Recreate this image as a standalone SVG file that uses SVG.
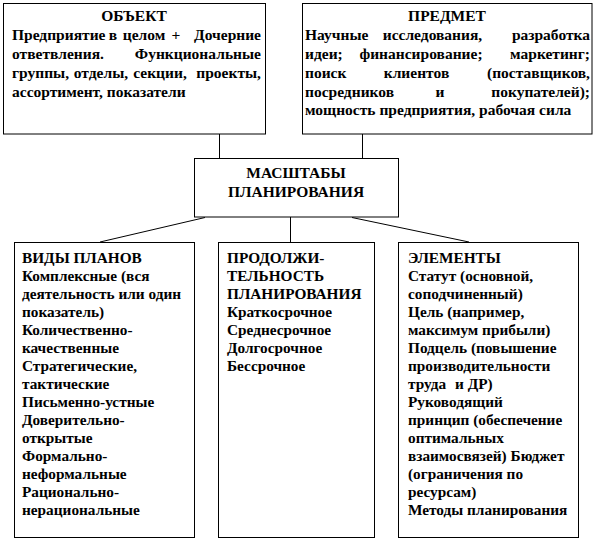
<svg xmlns="http://www.w3.org/2000/svg" width="594" height="545" viewBox="0 0 594 545">
<style>
.box{fill:#fff;stroke:#000;stroke-width:1}
.ln{stroke:#000;stroke-width:1;fill:none}
text{font-family:"Liberation Serif","Times New Roman",serif;font-weight:bold;fill:#000}
.t{font-size:15.5px}
.b{font-size:15.3px}
.m{text-anchor:middle}
.e{text-anchor:end}
</style>
<rect width="594" height="545" fill="#fff"/>
<g id="connectors">
<line class="ln" x1="219.5" y1="134" x2="219.5" y2="158"/>
<line class="ln" x1="362.5" y1="134" x2="362.5" y2="158"/>
<line class="ln" x1="290.5" y1="217" x2="290.5" y2="242"/>
<line class="ln" x1="205" y1="217.5" x2="100" y2="242"/>
<line class="ln" x1="352" y1="217.5" x2="469" y2="242"/>
</g>
<g id="object">
<rect class="box" x="3.5" y="3.5" width="262" height="130.5"/>
<text class="t m" x="134" y="21">ОБЪЕКТ</text>
<text class="t" x="12" y="40">Предприятие</text>
<text class="t m" x="113" y="40">в</text>
<text class="t m" x="144" y="40">целом</text>
<text class="t m" x="176" y="40">+</text>
<text class="t e" x="261" y="40">Дочерние</text>
<text class="t" x="12" y="59">ответвления.</text>
<text class="t e" x="261" y="59">Функциональные</text>
<text class="t" x="12" y="78">группы,</text>
<text class="t m" x="101" y="78">отделы,</text>
<text class="t m" x="160" y="78">секции,</text>
<text class="t e" x="261" y="78">проекты,</text>
<text class="t" x="12" y="97">ассортимент, показатели</text>
</g>
<g id="predmet">
<rect class="box" x="302.5" y="3.5" width="289.5" height="130.5"/>
<text class="t m" x="447" y="21">ПРЕДМЕТ</text>
<text class="t" x="305" y="40">Научные</text>
<text class="t m" x="432.5" y="40">исследования,</text>
<text class="t e" x="590" y="40">разработка</text>
<text class="t" x="305" y="59">идеи;</text>
<text class="t m" x="421" y="59">финансирование;</text>
<text class="t e" x="590" y="59">маркетинг;</text>
<text class="t" x="305" y="78">поиск</text>
<text class="t m" x="416.5" y="78">клиентов</text>
<text class="t e" x="590" y="78">(поставщиков,</text>
<text class="t" x="305" y="97">посредников</text>
<text class="t m" x="440" y="97">и</text>
<text class="t e" x="590" y="97">покупателей);</text>
<text class="t" x="305" y="115">мощность предприятия, рабочая сила</text>
</g>
<g id="masshtaby">
<rect class="box" x="194.5" y="158.5" width="204" height="58.5"/>
<text class="t m" x="296" y="178">МАСШТАБЫ</text>
<text class="t m" x="296" y="197">ПЛАНИРОВАНИЯ</text>
</g>
<g id="vidy">
<rect class="box" x="14.5" y="242.5" width="180" height="295"/>
<text class="b" x="22" y="263">ВИДЫ ПЛАНОВ</text>
<text class="b" x="22" y="281">Комплексные (вся</text>
<text class="b" x="22" y="299">деятельность или один</text>
<text class="b" x="22" y="317">показатель)</text>
<text class="b" x="22" y="335">Количественно-</text>
<text class="b" x="22" y="353">качественные</text>
<text class="b" x="22" y="371">Стратегические,</text>
<text class="b" x="22" y="389">тактические</text>
<text class="b" x="22" y="407">Письменно-устные</text>
<text class="b" x="22" y="425">Доверительно-</text>
<text class="b" x="22" y="443">открытые</text>
<text class="b" x="22" y="461">Формально-</text>
<text class="b" x="22" y="479">неформальные</text>
<text class="b" x="22" y="497">Рационально-</text>
<text class="b" x="22" y="515">нерациональные</text>
</g>
<g id="prodolzhitelnost">
<rect class="box" x="218.5" y="242.5" width="156" height="295"/>
<text class="b" x="227" y="263">ПРОДОЛЖИ-</text>
<text class="b" x="227" y="281">ТЕЛЬНОСТЬ</text>
<text class="b" x="227" y="299">ПЛАНИРОВАНИЯ</text>
<text class="b" x="227" y="317">Краткосрочное</text>
<text class="b" x="227" y="335">Среднесрочное</text>
<text class="b" x="227" y="353">Долгосрочное</text>
<text class="b" x="227" y="371">Бессрочное</text>
</g>
<g id="elementy">
<rect class="box" x="398.5" y="242.5" width="180" height="295"/>
<text class="b" x="408" y="263">ЭЛЕМЕНТЫ</text>
<text class="b" x="408" y="281">Статут (основной,</text>
<text class="b" x="408" y="299">соподчиненный)</text>
<text class="b" x="408" y="317">Цель (например,</text>
<text class="b" x="408" y="335">максимум прибыли)</text>
<text class="b" x="408" y="353">Подцель (повышение</text>
<text class="b" x="408" y="371">производительности</text>
<text class="b" x="408" y="389">труда</text>
<text class="b" x="455" y="389">и ДР)</text>
<text class="b" x="408" y="407">Руководящий</text>
<text class="b" x="408" y="425">принцип (обеспечение</text>
<text class="b" x="408" y="443">оптимальных</text>
<text class="b" x="408" y="461">взаимосвязей) Бюджет</text>
<text class="b" x="408" y="479">(ограничения по</text>
<text class="b" x="408" y="497">ресурсам)</text>
<text class="b" x="408" y="515">Методы планирования</text>
</g>
</svg>
